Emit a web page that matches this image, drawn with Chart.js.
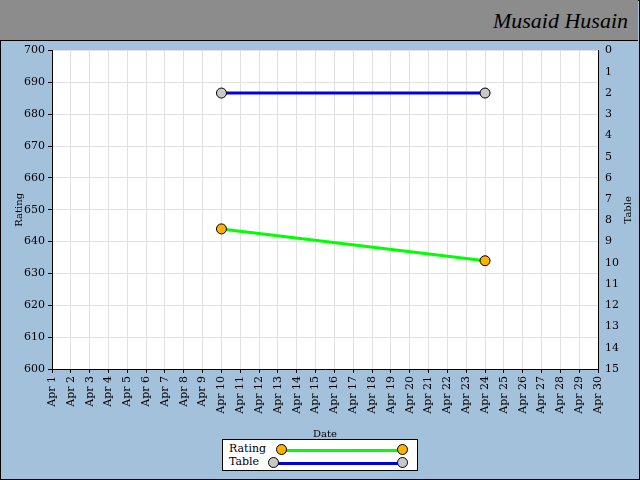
<!DOCTYPE html>
<html>
<head>
<meta charset="utf-8">
<script src="https://cdn.jsdelivr.net/npm/chart.js@4"></script>
<style>
  body { margin: 0; width: 640px; height: 480px; background: #a4c1dc; position: relative; overflow: hidden; font-family: "DejaVu Serif", serif; }
  #frame { position: absolute; left: 0; top: 0; width: 638px; height: 478px; border: 1px solid #000; }
  #header { position: absolute; left: 0; top: 0; width: 638px; height: 40px; background: #8c8c8c; border-bottom: 1px solid #000; }
  #header span { position: absolute; right: 10px; top: 8px; font-size: 22px; font-family: "URW Chancery L", "Comic Sans MS", cursive; font-style: italic; color: #000; }
  #wrap { position: absolute; left: 0; top: 41px; width: 640px; height: 399px; }
  #legend { position: absolute; left: 222px; top: 439px; width: 194px; height: 30px; background: #fff; border: 1px solid #000; font-size: 11px; }
  .row { position: absolute; left: 6px; height: 14px; line-height: 14px; }
  .ln { position: absolute; height: 3px; }
  .dot { position: absolute; width: 9px; height: 9px; border-radius: 50%; border: 1px solid #000; }
</style>
</head>
<body>
<div id="frame"></div>
<div id="header"><span>Musaid Husain</span></div>
<div id="wrap"><canvas id="chart"></canvas></div>
<div id="legend">
  <div class="row" style="top:2px">Rating</div>
  <div class="ln" style="left:58px;top:9px;width:122px;background:#00ff00"></div>
  <div class="dot" style="left:53px;top:4px;background:#ffb000"></div>
  <div class="dot" style="left:174px;top:4px;background:#ffb000"></div>
  <div class="row" style="top:15px">Table</div>
  <div class="ln" style="left:52px;top:22px;width:128px;background:#0000dd"></div>
  <div class="dot" style="left:45px;top:17px;background:#c8c8c8"></div>
  <div class="dot" style="left:174px;top:17px;background:#c8c8c8"></div>
</div>
<script>
const days = [];
for (let d = 1; d <= 30; d++) days.push('Apr ' + d);

const ratingDates = ['Apr 10', 'Apr 24'];
const ratingValues = [644, 634];
const tableDates = ['Apr 10', 'Apr 24'];
const tableValues = [2, 2];

const font = { family: '"DejaVu Serif", serif', size: 11 };

// white plot area + axis titles drawn bottom-to-top like the original
const plotBg = {
  id: 'plotBg',
  beforeDraw(chart) {
    const { ctx, chartArea: a } = chart;
    ctx.save();
    ctx.fillStyle = '#fff';
    ctx.fillRect(a.left, a.top, a.right - a.left, a.bottom - a.top);
    ctx.restore();
  },
  afterDraw(chart) {
    const { ctx, chartArea: a } = chart;
    const mid = (a.top + a.bottom) / 2;
    ctx.save();
    ctx.font = '10px "DejaVu Serif", serif';
    ctx.fillStyle = '#000';
    ctx.textAlign = 'center';
    [['Rating', 18], ['Table', 627]].forEach(([t, x]) => {
      ctx.save();
      ctx.translate(x, mid);
      ctx.rotate(-Math.PI / 2);
      ctx.fillText(t, 0, 4);
      ctx.restore();
    });
    ctx.restore();
  }
};

new Chart(document.getElementById('chart'), {
  type: 'line',
  data: {
    labels: days,
    datasets: [{
      label: 'Rating',
      data: ratingDates.map((d, i) => ({ x: d, y: ratingValues[i] })),
      borderColor: '#00ff00',
      backgroundColor: '#ffb000',
      pointBorderColor: '#000',
      pointBorderWidth: 1,
      pointRadius: 5,
      borderWidth: 3,
      yAxisID: 'y'
    }, {
      label: 'Table',
      data: tableDates.map((d, i) => ({ x: d, y: tableValues[i] })),
      borderColor: '#0000dd',
      backgroundColor: '#c8c8c8',
      pointBorderColor: '#000',
      pointBorderWidth: 1,
      pointRadius: 5,
      borderWidth: 3,
      yAxisID: 'y2'
    }]
  },
  options: {
    responsive: true,
    maintainAspectRatio: false,
    animation: false,
    layout: { padding: { top: 8 } },
    plugins: { legend: { display: false }, tooltip: { enabled: false } },
    scales: {
      x: {
        offset: false,
        ticks: { color: '#000', font, maxRotation: 90, minRotation: 90, autoSkip: false },
        grid: { color: '#e0e0e0', tickColor: '#000', tickLength: 4 },
        border: { color: '#000' },
        title: { display: true, text: 'Date', color: '#000', font: { family: font.family, size: 10 }, padding: 0 },
        afterFit: s => { s.height = 71; }
      },
      y: {
        position: 'left', min: 600, max: 700,
        ticks: { stepSize: 10, color: '#000', font },
        grid: { color: '#e0e0e0', tickColor: '#000', tickLength: 4 },
        border: { color: '#000' },
        afterFit: s => { s.width = 52; }
      },
      y2: {
        position: 'right', reverse: true, min: 0, max: 15,
        ticks: { stepSize: 1, color: '#000', font },
        grid: { display: false, tickColor: '#000', tickLength: 4 },
        border: { color: '#000' },
        afterFit: s => { s.width = 42; }
      }
    }
  },
  plugins: [plotBg]
});
</script>
</body>
</html>
